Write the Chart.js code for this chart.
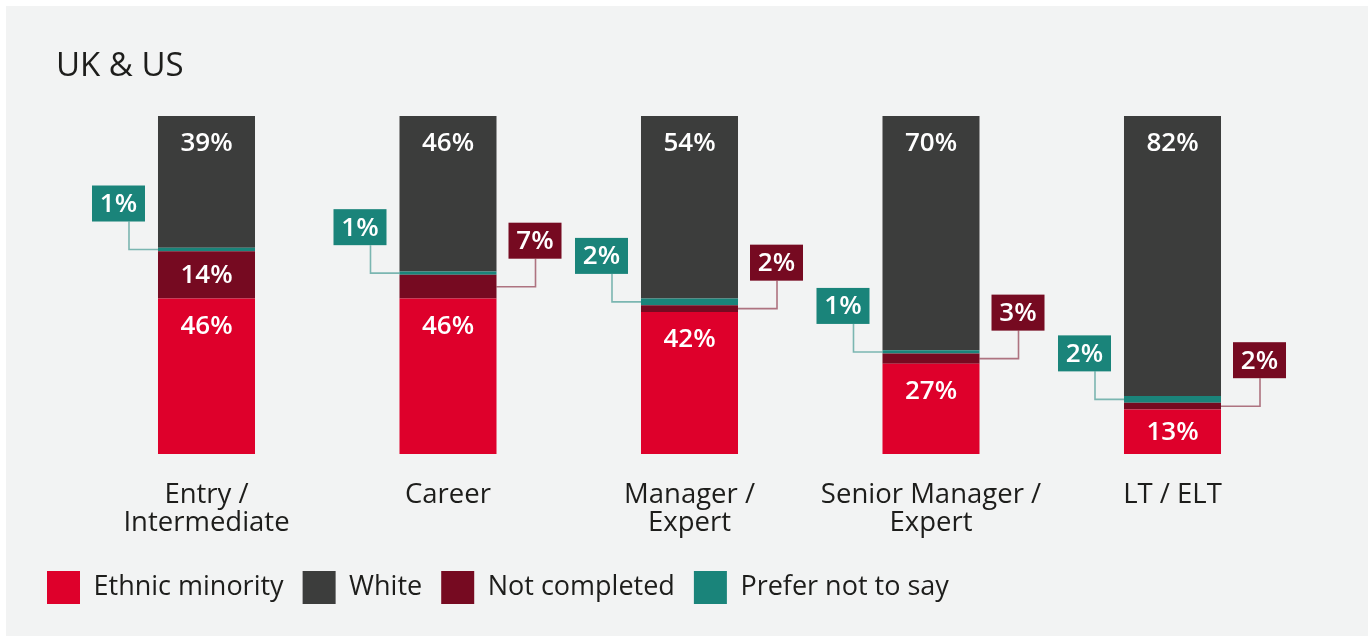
<!DOCTYPE html>
<html>
<head>
<meta charset="utf-8">
<script src="https://cdn.jsdelivr.net/npm/chart.js@4.4.1/dist/chart.umd.min.js"></script>
<style>
  html, body { margin: 0; padding: 0; background: #ffffff; }
  #panel { position: absolute; left: 6px; top: 6px; width: 1362px; height: 630px; background: #f2f3f3; }
</style>
</head>
<body>
<div id="panel"><canvas id="chart"></canvas></div>
<script>
// Workforce ethnicity by career level, UK & US (percent of headcount)
const categories = [['Entry /', 'Intermediate'], 'Career', ['Manager /', 'Expert'], ['Senior Manager /', 'Expert'], 'LT / ELT'];
const ethnicMinority = [46, 46, 42, 27, 13];
const notCompleted   = [14, 7, 2, 3, 2];
const preferNotToSay = [1, 1, 2, 1, 2];
const white          = [39, 46, 54, 70, 82];

const RED = '#de002b';
const GREY = '#3c3d3c';
const MAROON = '#760a21';
const TEAL = '#1a847a';
const INK = '#1d1d1b';
const FONT = '"Open Sans", "Noto Sans", sans-serif';

// legend reads left to right in this order (dataset indexes)
const legendOrder = [0, 3, 1, 2];

// rounded labels don't always add to 100, so each bar is scaled to its own total
const rowTotals = categories.map(function (c, i) {
    return ethnicMinority[i] + notCompleted[i] + preferNotToSay[i] + white[i];
});
function share(values) {
    return values.map(function (v, i) { return v / rowTotals[i] * 100; });
}

function makeSet(label, values, color, calloutSide) {
    return {
        label: label,
        data: share(values),
        values: values,
        calloutSide: calloutSide,
        backgroundColor: color,
        borderColor: color,
        borderWidth: 0,
        barPercentage: 0.4017,
        categoryPercentage: 1
    };
}

// title, in-bar percentages and the small boxed callouts with leader lines
const labelPlugin = {
    id: 'barLabels',
    afterDatasetsDraw(chart) {
        const ctx = chart.ctx;
        ctx.save();

        ctx.fillStyle = INK;
        ctx.font = '400 33px ' + FONT;
        ctx.textAlign = 'left';
        ctx.textBaseline = 'alphabetic';
        ctx.fillText('UK & US', 50, 70);

        ctx.font = '600 26px ' + FONT;
        ctx.textAlign = 'center';
        ctx.textBaseline = 'middle';

        chart.data.datasets.forEach(function (ds, di) {
            const meta = chart.getDatasetMeta(di);
            meta.data.forEach(function (bar, i) {
                const value = ds.values[i];
                const top = Math.min(bar.y, bar.base);
                const bottom = Math.max(bar.y, bar.base);
                const mid = (top + bottom) / 2;
                const left = bar.x - bar.width / 2;
                const right = bar.x + bar.width / 2;
                const text = value + '%';

                if (!ds.calloutSide || value >= 10) {
                    ctx.fillStyle = '#ffffff';
                    ctx.fillText(text, bar.x, Math.min(top + 28, mid + 1));
                    return;
                }

                const boxW = 53, boxH = 36;
                let boxLeft, lineX, edge;
                if (ds.calloutSide === 'left') {
                    boxLeft = left - 13 - boxW;
                    lineX = boxLeft + boxW - 16;
                    edge = left;
                } else {
                    boxLeft = right + 12;
                    lineX = boxLeft + 27;
                    edge = right;
                }
                const boxTop = mid - 64;

                ctx.strokeStyle = ds.backgroundColor;
                ctx.globalAlpha = 0.55;
                ctx.lineWidth = 1.6;
                ctx.beginPath();
                ctx.moveTo(lineX, boxTop + boxH);
                ctx.lineTo(lineX, mid);
                ctx.lineTo(edge, mid);
                ctx.stroke();
                ctx.globalAlpha = 1;

                ctx.fillStyle = ds.backgroundColor;
                ctx.fillRect(boxLeft, boxTop, boxW, boxH);
                ctx.fillStyle = '#ffffff';
                ctx.fillText(text, boxLeft + boxW / 2, boxTop + boxH / 2 + 1);
            });
        });
        ctx.restore();
    }
};

new Chart(document.getElementById('chart'), {
    type: 'bar',
    data: {
        labels: categories,
        datasets: [
            makeSet('Ethnic minority', ethnicMinority, RED, null),
            makeSet('Not completed', notCompleted, MAROON, 'right'),
            makeSet('Prefer not to say', preferNotToSay, TEAL, 'left'),
            makeSet('White', white, GREY, null)
        ]
    },
    options: {
        responsive: true,
        maintainAspectRatio: false,
        animation: false,
        layout: { padding: { left: 22, right: 74.75, top: 110, bottom: 22 } },
        scales: {
            x: {
                stacked: true,
                grid: { display: false },
                border: { display: false },
                ticks: {
                    color: INK,
                    font: { family: FONT, size: 27.5, lineHeight: 28 / 27.5 },
                    padding: 19,
                    maxRotation: 0,
                    autoSkip: false
                },
                afterFit: function (axis) { axis.height = 98; }
            },
            y: {
                stacked: true,
                min: 0,
                max: 100,
                grid: { display: false },
                border: { display: false },
                ticks: { display: false },
                afterFit: function (axis) { axis.width = 57.75; }
            }
        },
        plugins: {
            tooltip: { enabled: false },
            legend: {
                position: 'bottom',
                align: 'start',
                labels: {
                    boxWidth: 33,
                    boxHeight: 33,
                    padding: 19,
                    color: INK,
                    font: { family: FONT, size: 27 },
                    sort: function (a, b) {
                        return legendOrder.indexOf(a.datasetIndex) - legendOrder.indexOf(b.datasetIndex);
                    }
                }
            }
        }
    },
    plugins: [labelPlugin]
});
</script>
</body>
</html>
